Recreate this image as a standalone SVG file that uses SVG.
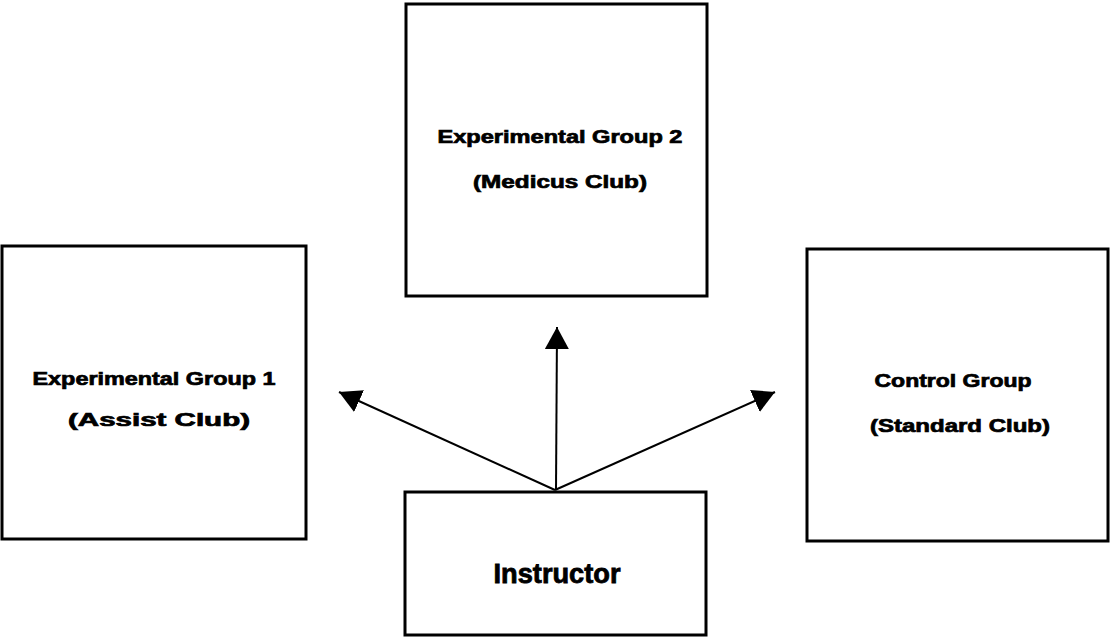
<svg xmlns="http://www.w3.org/2000/svg" width="1110" height="639" viewBox="0 0 1110 639">
<style>
.box{fill:#fff;stroke:#000;stroke-width:3}
.lbl{font-family:"Liberation Sans",Arial,sans-serif;font-weight:bold;font-size:18px;fill:#000;stroke:#000;stroke-width:0.7;text-anchor:middle}
.big{font-size:27px;stroke-width:0.8}
.conn{stroke:#000;stroke-width:2;fill:none;marker-end:url(#ah)}
</style>
<defs>
<marker id="ah" markerUnits="userSpaceOnUse" markerWidth="23" markerHeight="25" refX="22" refY="12" orient="auto" viewBox="0 0 23 25">
<path d="M0,0 L22,12 L0,24 z" fill="#000"/>
</marker>
</defs>
<rect width="1110" height="639" fill="#fff"/>
<g id="node-eg2">
<rect class="box" x="406" y="4" width="301" height="292"/>
<text class="lbl" x="560" y="143" textLength="245" lengthAdjust="spacingAndGlyphs">Experimental Group 2</text>
<text class="lbl" x="560" y="188" textLength="174" lengthAdjust="spacingAndGlyphs">(Medicus Club)</text>
</g>
<g id="node-eg1">
<rect class="box" x="2" y="246" width="304" height="293"/>
<text class="lbl" x="154" y="385" textLength="243" lengthAdjust="spacingAndGlyphs">Experimental Group 1</text>
<text class="lbl" x="159" y="426" textLength="182" lengthAdjust="spacingAndGlyphs">(Assist Club)</text>
</g>
<g id="node-control">
<rect class="box" x="807" y="249" width="301" height="292"/>
<text class="lbl" x="953" y="387" textLength="157" lengthAdjust="spacingAndGlyphs">Control Group</text>
<text class="lbl" x="960" y="432" textLength="180" lengthAdjust="spacingAndGlyphs">(Standard Club)</text>
</g>
<g id="node-instructor">
<rect class="box" x="405" y="492" width="301" height="143"/>
<text class="lbl big" x="557" y="583" textLength="127" lengthAdjust="spacingAndGlyphs">Instructor</text>
</g>
<g id="connectors">
<line class="conn" x1="556" y1="490" x2="557" y2="327"/>
<line class="conn" x1="555" y1="490" x2="339" y2="392"/>
<line class="conn" x1="555" y1="490" x2="775" y2="392"/>
</g>
</svg>
